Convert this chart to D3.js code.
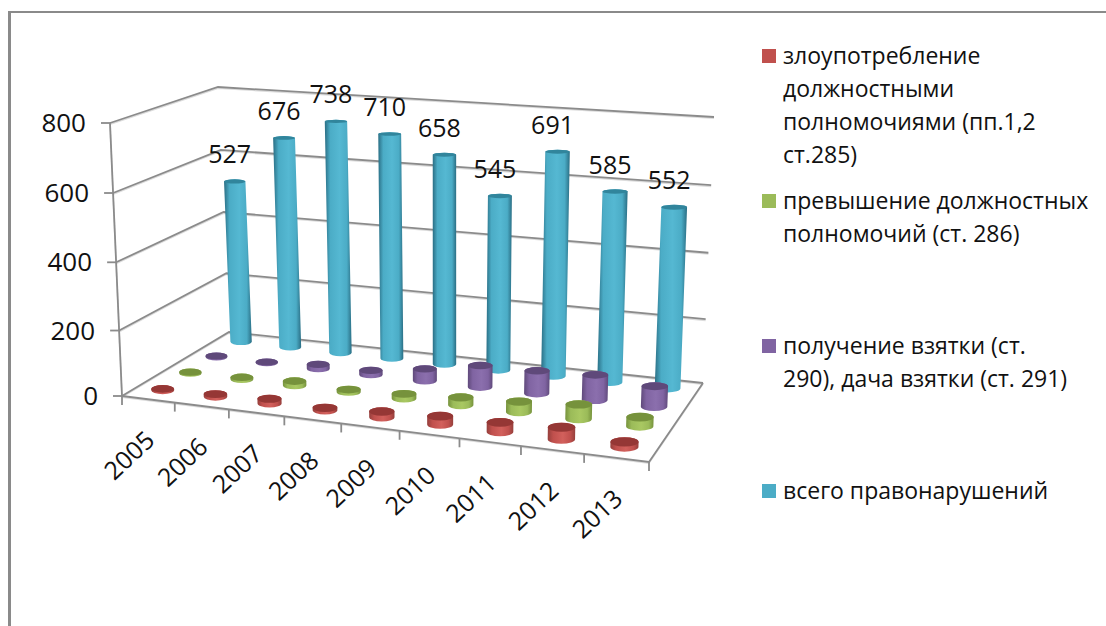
<!DOCTYPE html>
<html>
<head>
<meta charset="utf-8">
<script src="https://cdn.jsdelivr.net/npm/d3@7"></script>
<style>
  html, body { margin: 0; padding: 0; background: #fff; }
  svg { display: block; }
  text { font-family: "Open Sans", sans-serif; fill: #111; }
</style>
</head>
<body>
<svg id="chart" width="1106" height="626"></svg>
<script>
const years = [2005, 2006, 2007, 2008, 2009, 2010, 2011, 2012, 2013];

// Values, only the last series carries printed labels
const abuse = [5, 9, 15, 8, 18, 25, 28, 35, 15];
const excess = [4, 7, 15, 8, 15, 25, 33, 45, 28];
const bribery = [4, 3, 15, 15, 40, 70, 73, 80, 65];
const total = [527, 676, 738, 710, 658, 545, 691, 585, 552];

const valueTicks = [0, 200, 400, 600, 800];

const seriesNames = ['abuse', 'excess', 'bribery', 'total'];
const seriesValues = [abuse, excess, bribery, total];
const seriesBody = ['#c0504d', '#9bbb59', '#8064a2', '#4bacc6'];
const seriesEdge = ['#953f3c', '#76923c', '#5f497a', '#2a6e84'];
const seriesLight = ['#d2605c', '#a9c862', '#8b6fad', '#55b8d2'];
const seriesCap = ['#953735', '#76923c', '#5f497a', '#31859c'];

const legendLines = [
    ['злоупотребление', 'должностными', 'полномочиями (пп.1,2', 'ст.285)'],
    ['превышение должностных', 'полномочий (ст. 286)'],
    ['получение взятки (ст.', '290), дача взятки (ст. 291)'],
    ['всего правонарушений']
];
const legendSwatchY = [49, 194, 339, 484];

const svg = d3.select('#chart');

/**
 * Map the unit square onto a quad, corners given as
 * front-left, front-right, back-right, back-left
 */
function quadMap(q) {
    const [p0, p1, p2, p3] = q;
    const dx1 = p1[0] - p2[0], dx2 = p3[0] - p2[0], sx = p0[0] - p1[0] + p2[0] - p3[0];
    const dy1 = p1[1] - p2[1], dy2 = p3[1] - p2[1], sy = p0[1] - p1[1] + p2[1] - p3[1];
    const den = dx1 * dy2 - dx2 * dy1;
    const g = (sx * dy2 - dx2 * sy) / den;
    const h = (dx1 * sy - sx * dy1) / den;
    const a = p1[0] - p0[0] + g * p1[0], b = p3[0] - p0[0] + h * p3[0], c = p0[0];
    const d = p1[1] - p0[1] + g * p1[1], e = p3[1] - p0[1] + h * p3[1], f = p0[1];
    return (u, v) => {
        const w = g * u + h * v + 1;
        return [(a * u + b * v + c) / w, (d * u + e * v + f) / w];
    };
}

const floorAt = quadMap([[122, 396], [649, 462], [703, 383], [229, 332]]);

// How far the 800 level sits from the floor at each floor corner
const liftFrontLeft = [-12, -273];
const liftFrontRight = [7, -322];
const liftBackRight = [11, -266];
const liftBackLeft = [-11, -245];

const xScale = d3.scaleBand().domain(years).range([0, 1]);
const depthScale = d3.scaleBand().domain(seriesNames).range([0, 1]);
const valueScale = d3.scalePow().exponent(1.03).domain([0, 800]).range([0, 1]);

function liftAt(u, v, k) {
    const front = liftFrontLeft[k] + (liftFrontRight[k] - liftFrontLeft[k]) * u;
    const back = liftBackLeft[k] + (liftBackRight[k] - liftBackLeft[k]) * u;
    return back + (front - back) * (1 - v) * (1 - v);
}

function project(u, v, value) {
    const a = floorAt(u, v);
    const t = valueScale(value);
    return [a[0] + liftAt(u, v, 0) * t, a[1] + liftAt(u, v, 1) * t];
}

const line = d3.line();

// Horizontal gradients that give the bars their round look
const defs = svg.append('defs');
seriesNames.forEach((name, i) => {
    const grad = defs.append('linearGradient').attr('id', 'grad-' + name);
    grad.append('stop').attr('offset', '0%').attr('stop-color', seriesEdge[i]);
    grad.append('stop').attr('offset', '20%').attr('stop-color', seriesBody[i]);
    grad.append('stop').attr('offset', '55%').attr('stop-color', seriesLight[i]);
    grad.append('stop').attr('offset', '82%').attr('stop-color', seriesBody[i]);
    grad.append('stop').attr('offset', '100%').attr('stop-color', seriesEdge[i]);
});

// Frame of the slide
const frame = svg.append('g').attr('fill', '#8a8a8a');
frame.append('rect').attr('x', 8).attr('y', 11).attr('width', 3).attr('height', 615);
frame.append('rect').attr('x', 8).attr('y', 11).attr('width', 1098).attr('height', 2);

// Walls and floor
const wallLines = [];
valueTicks.forEach(v => {
    wallLines.push([project(0, 0, v), project(0, 1, v), project(1, 1, v)]);
});
wallLines.push([project(0, 0, 0), project(0, 0, 800)]);
wallLines.push([project(0, 0, 0), project(1, 0, 0), project(1, 1, 0)]);

const grid = svg.append('g').attr('class', 'grid').attr('fill', 'none');
grid.selectAll('path.halo').data(wallLines).join('path')
    .attr('class', 'halo')
    .attr('d', line)
    .attr('transform', 'translate(0,1.2)')
    .attr('stroke', '#dcdcdc')
    .attr('stroke-width', 1.5);
grid.selectAll('path.main').data(wallLines).join('path')
    .attr('class', 'main')
    .attr('d', line)
    .attr('stroke', '#8b8b8b')
    .attr('stroke-width', 1.8);

// Tick marks, left on the value axis, down on the category axis
grid.selectAll('line.vtick').data(valueTicks).join('line')
    .attr('class', 'vtick')
    .attr('x1', d => project(0, 0, d)[0] - 9)
    .attr('x2', d => project(0, 0, d)[0])
    .attr('y1', d => project(0, 0, d)[1])
    .attr('y2', d => project(0, 0, d)[1])
    .attr('stroke', '#8b8b8b')
    .attr('stroke-width', 1.8);

const xEdges = d3.range(years.length + 1).map(i => i * xScale.step());
grid.selectAll('line.xtick').data(xEdges).join('line')
    .attr('class', 'xtick')
    .attr('x1', d => project(d, 0, 0)[0])
    .attr('x2', d => project(d, 0, 0)[0])
    .attr('y1', d => project(d, 0, 0)[1])
    .attr('y2', d => project(d, 0, 0)[1] + 9)
    .attr('stroke', '#8b8b8b')
    .attr('stroke-width', 1.8);

// Value axis labels
svg.append('g').selectAll('text').data(valueTicks).join('text')
    .attr('x', d => project(0, 0, d)[0] - 24)
    .attr('y', d => project(0, 0, d)[1] + 9)
    .attr('text-anchor', 'end')
    .attr('font-size', 26)
    .text(d => d);

// Year labels
svg.append('g').selectAll('text').data(years).join('text')
    .attr('text-anchor', 'middle')
    .attr('font-size', 25)
    .attr('transform', d => {
        const p = project(xScale(d) + xScale.bandwidth() / 2, 0, 0);
        return `translate(${p[0] - 19},${p[1] + 56}) rotate(-43)`;
    })
    .attr('dy', '0.35em')
    .text(d => d);

/**
 * Build the cylinder shapes for one series, back rows get drawn first
 */
function cylinderData(name, values) {
    return years.map((year, i) => {
        const u = xScale(year) + xScale.bandwidth() / 2;
        const v = depthScale(name) + depthScale.bandwidth() / 2;
        const bottom = project(u, v, 0);
        const top = project(u, v, values[i]);
        const left = project(u - xScale.bandwidth() * 0.22, v, 0);
        const right = project(u + xScale.bandwidth() * 0.22, v, 0);
        const near = project(u, v - depthScale.bandwidth() * 0.22, 0);
        const far = project(u, v + depthScale.bandwidth() * 0.22, 0);
        const rx = (right[0] - left[0]) / 2;
        const ry = Math.abs(near[1] - far[1]) / 2;
        // the tops are seen at a flatter angle than the floor
        const ryTop = ry * (1 - 0.55 * valueScale(values[i]));
        return { year, value: values[i], bottom, top, rx, ry, ryTop };
    });
}

function bodyPath(d) {
    const [bx, by] = d.bottom;
    const [tx, ty] = d.top;
    return `M${tx - d.rx},${ty}L${bx - d.rx},${by}`
        + `A${d.rx},${d.ry} 0 0 0 ${bx + d.rx},${by}`
        + `L${tx + d.rx},${ty}`
        + `A${d.rx},${d.ryTop} 0 0 0 ${tx - d.rx},${ty}Z`;
}

const bars = svg.append('g').attr('class', 'bars');
d3.range(seriesNames.length - 1, -1, -1).forEach(s => {
    const rows = bars.append('g').attr('class', 'series-' + seriesNames[s]);
    const data = cylinderData(seriesNames[s], seriesValues[s]);
    const bar = rows.selectAll('g').data(data).join('g');
    bar.append('path')
        .attr('d', bodyPath)
        .attr('fill', `url(#grad-${seriesNames[s]})`);
    bar.append('ellipse')
        .attr('cx', d => d.top[0])
        .attr('cy', d => d.top[1])
        .attr('rx', d => d.rx)
        .attr('ry', d => d.ryTop)
        .attr('fill', seriesCap[s]);
});

// Printed values over the tallest series
svg.append('g').selectAll('text').data(cylinderData('total', total)).join('text')
    .attr('x', d => d.top[0] - 5)
    .attr('y', d => d.top[1] - 18)
    .attr('text-anchor', 'middle')
    .attr('font-size', 25)
    .text(d => d.value);

// Legend
const legend = svg.append('g').attr('class', 'legend');
legend.selectAll('rect').data(seriesBody).join('rect')
    .attr('x', 762)
    .attr('y', (d, i) => legendSwatchY[i])
    .attr('width', 14)
    .attr('height', 14)
    .attr('fill', d => d);

legend.selectAll('text').data(legendLines).join('text')
    .attr('font-size', 23)
    .each(function(lines, i) {
        d3.select(this).selectAll('tspan').data(lines).join('tspan')
            .attr('x', 783)
            .attr('y', (d, k) => legendSwatchY[i] + 15 + k * 33)
            .text(d => d);
    });
</script>
</body>
</html>
